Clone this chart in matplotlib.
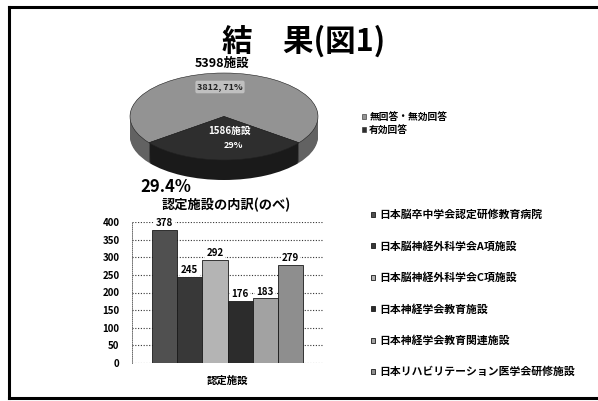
import matplotlib
matplotlib.use("Agg")
import matplotlib.pyplot as plt
import numpy as np
from matplotlib.lines import Line2D

plt.rcParams['font.family'] = ['Noto Sans CJK JP', 'DejaVu Sans']
plt.rcParams['font.weight'] = 'bold'

W, H = 598, 401

# --- data ---
pie_labels = ["無回答・無効回答", "有効回答"]
pie_values = [3812, 1586]
total_label = "5398施設"
valid_rate = "29.4%"

bar_labels = [
    "日本脳卒中学会認定研修教育病院",
    "日本脳神経外科学会A項施設",
    "日本脳神経外科学会C項施設",
    "日本神経学会教育施設",
    "日本神経学会教育関連施設",
    "日本リハビリテーション医学会研修施設",
]
bar_values = [378, 245, 292, 176, 183, 279]
bar_category = "認定施設"
y_ticks = [0, 50, 100, 150, 200, 250, 300, 350, 400]

pie_top_colors = ["#939393", "#2e2e2e"]
pie_side_colors = ["#626262", "#1a1a1a"]
bar_colors = ["#505050", "#383838", "#b4b4b4", "#2c2c2c", "#a2a2a2", "#8e8e8e"]


def fx(px):
    return px / W


def fy(py):
    return 1 - py / H


fig = plt.figure(figsize=(W / 100, H / 100), dpi=100)

# frame of the slide
for xs, ys in [((9, 9), (7, 398)), ((9, 598), (7, 7)), ((9, 598), (398, 398))]:
    fig.add_artist(Line2D([fx(x) for x in xs], [fy(y) for y in ys],
                          color="black", linewidth=2.2, transform=fig.transFigure))

fig.text(fx(304), fy(41), "結\u3000果(図1)", ha="center", va="center",
         fontsize=22, fontweight="bold")

# --- 3D-ish pie ---
pie_l, pie_r, pie_t, pie_b = 130, 318, 73, 180
top_h = 87
axp = fig.add_axes([fx(pie_l), fy(pie_b), (pie_r - pie_l) / W, (pie_b - pie_t) / H])
yr = (pie_b - pie_t) / top_h * 2
depth = yr - 2
frac = pie_values[1] / sum(pie_values)
start = 270 - 360 * (1 - frac) - 180 * frac
for d in np.linspace(depth, 0.01, 20):
    axp.pie(pie_values, colors=pie_side_colors, startangle=start, center=(0, -d),
            wedgeprops=dict(linewidth=0))
wedges, _ = axp.pie(pie_values, colors=pie_top_colors, startangle=start,
                    wedgeprops=dict(edgecolor="#222222", linewidth=0.4))
axp.set_aspect("auto")
axp.set_xlim(-1, 1)
axp.set_ylim(1 - yr, 1)
axp.axis("off")

pct = [v / sum(pie_values) * 100 for v in pie_values]
fig.text(fx(220), fy(87), f"{pie_values[0]}, {pct[0]:.0f}%", ha="center", va="center",
         fontsize=6.5, color="#222222", fontweight="bold",
         bbox=dict(fc="#c0c0c0", ec="none", boxstyle="round,pad=0.2"))
fig.text(fx(230), fy(131), f"{pie_values[1]}施設", ha="center", va="center",
         fontsize=7, color="white", fontweight="bold")
fig.text(fx(233), fy(146), f"{pct[1]:.0f}%", ha="center", va="center",
         fontsize=6.5, color="white", fontweight="bold")
fig.text(fx(222), fy(63), total_label, ha="center", va="center", fontsize=9, fontweight="bold")
fig.text(fx(166), fy(187), valid_rate, ha="center", va="center", fontsize=12, fontweight="bold")

fig.legend(wedges, pie_labels, loc="center left", bbox_to_anchor=(fx(362), fy(123.5)),
           frameon=False, fontsize=7, handlelength=0.45, handleheight=0.45,
           handletextpad=0.3, labelspacing=0.25, borderpad=0, borderaxespad=0)

# --- bar chart ---
fig.text(fx(226), fy(205), "認定施設の内訳(のべ)", ha="center", va="center",
         fontsize=9.5, fontweight="bold")

axb = fig.add_axes([fx(132), fy(363), 191 / W, 141 / H])
n = len(bar_values)
bw = 25.2 / 191
bars = []
for i, (lab, v, c) in enumerate(zip(bar_labels, bar_values, bar_colors)):
    x = (i - (n - 1) / 2) * bw
    b = axb.bar(x, v, width=bw, color=c, edgecolor="#1a1a1a", linewidth=0.6, label=lab)
    bars.append(b)
    axb.text(x, v + 5, str(v), ha="center", va="bottom", fontsize=7, fontweight="bold",
             bbox=dict(fc="white", ec="none", pad=1))
axb.set_xlim(-0.5, 0.5)
axb.set_ylim(0, 400)
axb.set_yticks(y_ticks)
axb.set_xticks([])
axb.tick_params(axis="y", length=0, pad=9, labelsize=7)
axb.yaxis.grid(True, linestyle=(0, (1, 1.5)), color="#333333", linewidth=0.8)
axb.set_axisbelow(True)
for s in ["top", "right", "bottom"]:
    axb.spines[s].set_visible(False)
axb.spines["left"].set_linestyle((0, (1, 1.5)))
axb.spines["left"].set_color("#555555")
axb.spines["left"].set_linewidth(0.6)
axb.set_xlabel(bar_category, fontsize=7.5, fontweight="bold", labelpad=9)

fig.legend([b[0] for b in bars], bar_labels, loc="center left",
           bbox_to_anchor=(fx(371), fy(293.5)), frameon=False, fontsize=7.8,
           handlelength=0.35, handleheight=0.35, handletextpad=0.4,
           labelspacing=1.92, borderpad=0, borderaxespad=0)

fig.savefig("out.png", dpi=100)
